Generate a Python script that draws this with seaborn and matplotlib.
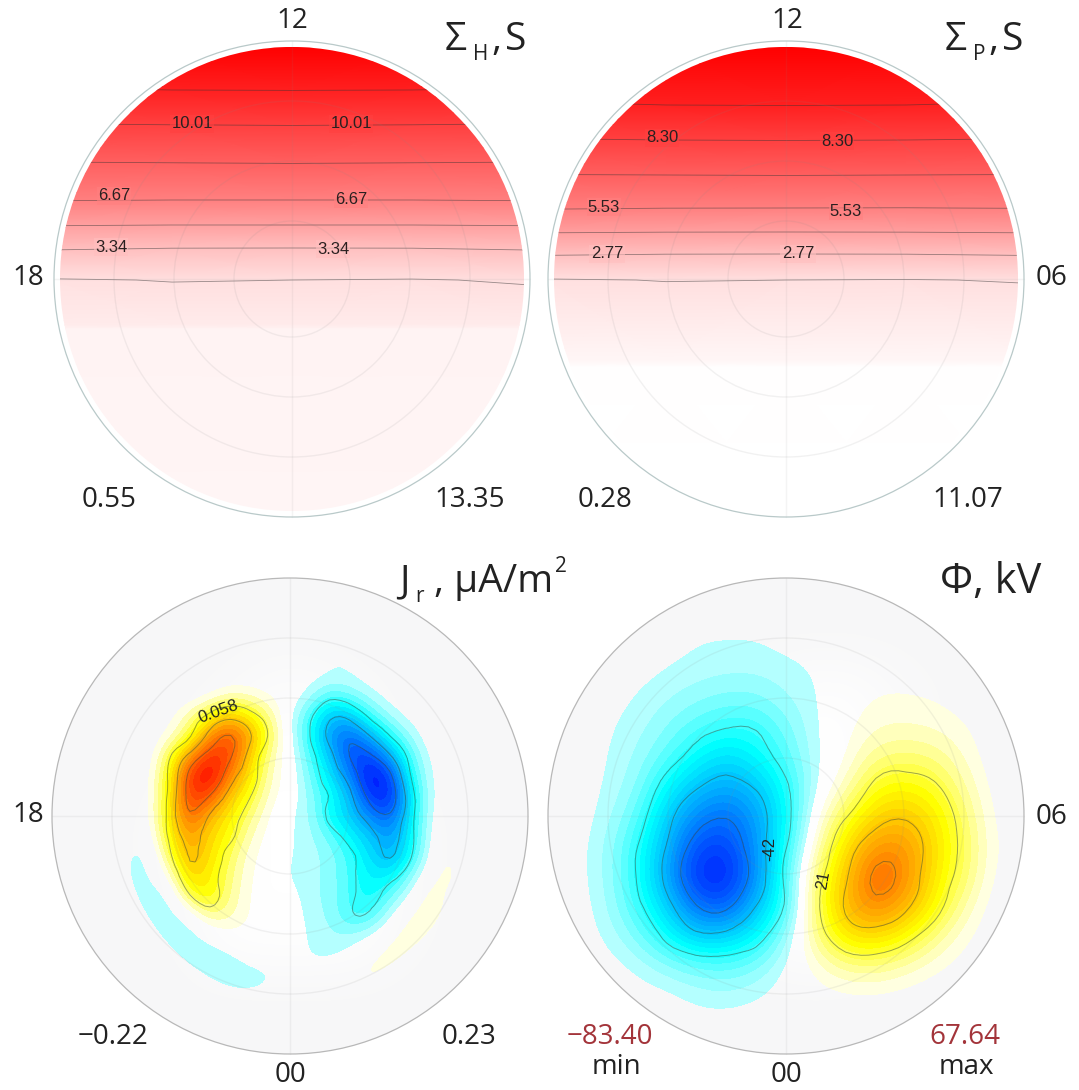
# =======================================
#           IMPORT LIBRARIES
# =======================================
import numpy as np
import matplotlib
matplotlib.use("Agg")
import matplotlib.pyplot as plt
from matplotlib.colors import BoundaryNorm, LinearSegmentedColormap, ListedColormap, Normalize
from matplotlib.patches import Circle
from matplotlib.tri import Triangulation, UniformTriRefiner
import seaborn as sns

sns.set_theme(style="white")
plt.rcParams["font.family"] = ["Open Sans", "DejaVu Sans"]

# =======================================
#           DATA
# =======================================
N = 0.0  # no pattern there
W, H = 1079, 1090

ring_radii = [58, 118, 178]
outer_radius = 238

# conductance profiles, top panels: one row per distance from the centre line
sheet_x = [-240, -120, 0, 120, 240]
hall_y = [-240, -232, -189, -154, -116, -79, -54, -31, 1, 46, 50, 240]
hall_values = [
    [13.8, 13.8, 13.8, 13.8, 13.8],
    [13.35, 13.35, 13.35, 13.35, 13.35],
    [11.6, 11.68, 11.7, 11.68, 11.6],
    [9.95, 10.0, 10.03, 10.0, 9.95],
    [8.3, 8.33, 8.36, 8.33, 8.3],
    [6.72, 6.67, 6.67, 6.67, 6.72],
    [5.05, 5.0, 5.0, 5.0, 5.05],
    [3.45, 3.35, 3.34, 3.35, 3.45],
    [1.6, 1.7, 1.67, 1.62, 1.75],
    [1.05, 1.05, 1.05, 1.05, 1.05],
    [0.66, 0.66, 0.66, 0.66, 0.66],
    [0.55, 0.55, 0.55, 0.55, 0.55],
]
pedersen_y = [-240, -232, -174, -139, -104, -71, -47, -25, 1, 82, 88, 240]
pedersen_values = [
    [11.4, 11.4, 11.4, 11.4, 11.4],
    [11.07, 11.07, 11.07, 11.07, 11.07],
    [9.6, 9.68, 9.7, 9.68, 9.6],
    [8.25, 8.3, 8.32, 8.3, 8.25],
    [6.9, 6.92, 6.94, 6.92, 6.9],
    [5.6, 5.54, 5.53, 5.52, 5.55],
    [4.2, 4.16, 4.15, 4.16, 4.2],
    [2.85, 2.78, 2.77, 2.78, 2.85],
    [1.32, 1.4, 1.38, 1.35, 1.42],
    [0.42, 0.42, 0.42, 0.42, 0.42],
    [0.08, 0.08, 0.08, 0.08, 0.08],
    [0.03, 0.03, 0.03, 0.03, 0.03],
]
hall_levels = [1.67, 3.34, 5.0, 6.67, 8.34, 10.01, 11.68]
pedersen_levels = [1.38, 2.77, 4.15, 5.53, 6.92, 8.30, 9.68]

# field aligned current x 1000
current_x = list(range(-180, 181, 20))
current_y = list(range(-140, 181, 20))
current_values = [
    [N, N, N, N, N, N, N, N, N, N, -4, -11, -11, -3, N, N, N, N, N],
    [N, N, N, N, N, 8, 25, 22, 10, 1, -18, -48, -35, -17, -4, N, N, N, N],
    [N, N, N, 5, 30, 70, 100, 75, 35, -8, -50, -105, -100, -50, -20, -5, N, N, N],
    [N, N, N, 15, 55, 135, 175, 120, 50, -6, -58, -130, -160, -115, -58, -22, 0, N, N],
    [N, N, 0, 55, 130, 195, 180, 95, 30, 0, -45, -100, -175, -180, -120, -45, -6, N, N],
    [N, N, 5, 70, 190, 225, 140, 80, 25, 2, -35, -80, -140, -215, -185, -62, -10, N, N],
    [N, N, 5, 75, 190, 170, 100, 60, 18, 1, -28, -60, -105, -190, -200, -85, -10, N, N],
    [N, N, 5, 80, 165, 110, 75, 40, 10, -10, -22, -68, -95, -140, -165, -80, -8, 3, N],
    [N, -12, 0, 70, 130, 90, 65, 25, 5, -10, -20, -40, -72, -100, -130, -75, -6, 12, N],
    [N, -14, -14, 50, 118, 85, 48, 15, 3, -12, -18, -28, -52, -85, -118, -65, -2, 16, N],
    [N, -14, -16, 15, 95, 75, 40, 12, 2, -14, -20, -28, -50, -75, -75, -30, 10, 18, N],
    [N, -8, -20, -14, 55, 75, 35, 10, 2, -5, -20, -28, -50, -68, -40, -6, 22, 8, N],
    [N, -2, -14, -22, -4, 35, 28, 10, 2, 0, -18, -25, -52, -50, -12, 16, 20, 5, N],
    [N, N, -5, -18, -22, -6, 6, 6, 1, 0, -15, -22, -22, -10, 12, 20, 10, N, N],
    [N, N, N, -6, -18, -22, -16, -2, 2, 0, -14, -15, -6, 12, 18, 10, N, N, N],
    [N, N, N, N, -5, -14, -22, -22, -16, -2, 0, 4, 14, 16, 8, N, N, N, N],
    [N, N, N, N, N, N, -4, -6, -4, N, N, N, N, N, N, N, N, N, N],
]
current_levels = [-173, -115, -58, 58, 115, 173]

# potential in kV
potential_x = list(range(-210, 211, 30))
potential_y = list(range(-210, 211, 30))
potential_values = [
    [N, N, N, N, N, N, N, N, N, N, N, N, N, N, N],
    [N, N, N, -1, -3.2, -3.4, -3.4, -1.5, N, N, N, N, N, N, N],
    [N, N, -1.5, -3.2, -4.5, -5.5, -5.5, -4.5, -3.2, 0.5, 1, 1, N, N, N],
    [N, -1.5, -3.6, -6, -9, -11, -11, -7, -3.7, 1, 3.6, 3.8, 3, 1, N],
    [N, -2.8, -5, -10, -16, -20, -20, -12, -3.8, 2, 6.5, 7, 6, 3.6, N],
    [N, -3.2, -7, -15, -26, -34, -27, -16, -4, 3, 13, 15, 13, 6, N],
    [N, -3.8, -9, -26, -40, -47, -40, -23, -3.7, 8, 24, 27, 22, 10, 0.5],
    [-0.5, -5, -14, -36, -55, -62, -50, -26, 2, 20, 36, 40, 30, 15, 1],
    [-1, -7, -20, -42, -70, -74, -52, -22, 7, 33, 52, 52, 33, 17, 2],
    [-1, -7, -21, -46, -78, -82, -54, -17, 15, 40, 66, 55, 30, 16, 1],
    [-0.5, -6, -18, -36, -62, -67, -42, -19, 17, 44, 57, 45, 26, 9, 0],
    [N, -4, -11, -24, -38, -37, -27, -8, 13, 32, 35, 26, 13, 3.6, N],
    [N, -1, -4, -9, -13, -15, -11, -2.5, 5, 12, 13, 9, 4, 1, N],
    [N, N, -1, -1.5, -4.5, -5.5, -4, -0.5, 1, 2, 2, 1, N, N, N],
    [N, N, N, N, -1, -1, N, N, N, N, N, N, N, N, N],
]
potential_levels = [-63, -42, -21, 21, 42, 63]

# how white the disc is between the two cells (0 grey, 1 white)
gap_axis = [-180, -120, -60, 0, 60, 120, 180]
current_gap = [
    [0, 0, 0, 0, 0, 0, 0],
    [0, 0, 0.2, 0.9, 0.3, 0, 0],
    [0, 0, 1, 1, 1, 0, 0],
    [0, 0.3, 1, 1, 1, 0.3, 0],
    [0, 0.3, 1, 1, 1, 0.3, 0],
    [0, 0, 1, 1, 1, 0.2, 0],
    [0, 0, 0, 0, 0, 0, 0],
]
potential_gap = [
    [0, 0, 0, 0, 0, 0, 0],
    [0, 0, 0, 0.8, 1, 0.3, 0],
    [0, 0, 0, 1, 1, 0.3, 0],
    [0, 0, 0, 1, 1, 0, 0],
    [0, 0, 0, 1, 1, 0, 0],
    [0, 0, 0, 1, 1, 0, 0],
    [0, 0, 0, 0, 0, 0, 0],
]

# =======================================
#           COLOURS
# =======================================
reds = sns.blend_palette(["#ffffff", "#ff0000"], as_cmap=True)
warm = sns.blend_palette(["#ffffe0", "#ffff00", "#ffaa00", "#ff5500", "#ff0000"], n_colors=5, as_cmap=True)
cold = sns.blend_palette(["#b4ffff", "#00ffff", "#00aaff", "#0055ff", "#0000ff"], n_colors=5, as_cmap=True)
white_fade = LinearSegmentedColormap.from_list("white_fade", [(1, 1, 1, 0), (1, 1, 1, 1)])


def band_style(step, top):
    # symmetric colour bands, the middle band stays see-through
    n = int(round(top / step))
    edges = np.arange(-n, n + 1) * step
    edges = np.concatenate([edges[edges < 0], edges[edges > 0]])
    colours = []
    for e in edges[:-1]:
        if e < 0:
            colours.append(cold(max(0, -e - 2 * step) / top))
        else:
            colours.append(warm((e - step) / top))
    colours[n - 1] = (1, 1, 1, 0)
    return ListedColormap(colours), BoundaryNorm(edges, len(colours), clip=True)


# =======================================
#           HELPERS
# =======================================
fig = plt.figure(figsize=(W / 100, H / 100), dpi=100, facecolor="white")


def panel(cx, cy):
    s = 250
    ax = fig.add_axes([(cx - s) / W, 1 - (cy + s) / H, 2 * s / W, 2 * s / H])
    ax.set_xlim(-s, s)
    ax.set_ylim(s, -s)
    ax.set_aspect("equal")
    ax.axis("off")
    return ax


def frame(ax, rim):
    for r in ring_radii:
        ax.add_patch(Circle((0, 0), r, fill=False, ec="#888888", alpha=0.11, lw=1, zorder=6))
    ax.plot([0, 0], [-outer_radius, outer_radius], color="#888888", alpha=0.09, lw=1, zorder=6)
    ax.plot([-outer_radius, outer_radius], [0, 0], color="#888888", alpha=0.09, lw=1, zorder=6)
    ax.add_patch(Circle((0, 0), outer_radius, fill=False, ec=rim, lw=0.9, zorder=7))


def sheet_panel(cx, cy, ys, values, levels, top, labels):
    ax = panel(cx, cy)
    z = np.array(values)
    clip = Circle((0, 0), 232, transform=ax.transData)
    mesh = ax.pcolormesh(sheet_x, ys, z, cmap=reds, norm=Normalize(0, top), shading="gouraud", zorder=1)
    mesh.set_clip_path(clip)
    lines = ax.contour(sheet_x, ys, z, levels=levels, colors="#333333", linewidths=0.6, alpha=0.5, zorder=3)
    lines.set_clip_path(clip)
    for x, y, v in labels:
        shade = reds(float(v) / top)
        ax.text(x, y, v, ha="center", va="center", fontsize=12, color="#2a2020",
                family="Liberation Sans", zorder=5,
                bbox=dict(fc=shade, ec="none", pad=1.0, alpha=0.6))
    frame(ax, "#b9c9c9")
    return ax


def pattern_panel(cx, cy, xs, ys, values, gap, levels, step, top):
    ax = panel(cx, cy)
    ax.add_patch(Circle((0, 0), outer_radius, fc="#f7f7f8", ec="none", zorder=0))
    g = gap_axis[1] - gap_axis[0]
    ax.imshow(np.array(gap, dtype=float), extent=(gap_axis[0] - g / 2, gap_axis[-1] + g / 2, gap_axis[-1] + g / 2, gap_axis[0] - g / 2),
              origin="upper", cmap=white_fade, vmin=0, vmax=1, interpolation="bicubic",
              interpolation_stage="data", aspect="equal", zorder=1)
    z = np.array(values, dtype=float)
    cmap, norm = band_style(step, top)
    d = xs[1] - xs[0]
    ax.imshow(z, extent=(xs[0] - d / 2, xs[-1] + d / 2, ys[-1] + d / 2, ys[0] - d / 2),
              origin="upper", cmap=cmap, norm=norm, interpolation="bicubic",
              interpolation_stage="data", aspect="equal", zorder=2)
    # contour lines through the library's own refiner so they come out round
    gx, gy = np.meshgrid(xs, ys)
    tri = Triangulation(gx.ravel(), gy.ravel())
    fine_tri, fine_z = UniformTriRefiner(tri).refine_field(z.ravel(), subdiv=2)
    ax.tricontour(fine_tri, fine_z, levels=levels, colors="#3a4a3a", linestyles="solid",
                  linewidths=0.7, alpha=0.5, zorder=3)
    ax.set_xlim(-250, 250)
    ax.set_ylim(250, -250)
    frame(ax, "#b8b8b8")
    return ax


def label(x, y, s, size=20, color="#222222", **kw):
    fig.text(x / W, 1 - y / H, s, fontsize=size, color=color, ha=kw.pop("ha", "center"), va="center", **kw)


# =======================================
#           PANELS
# =======================================
sheet_panel(292, 279, hall_y, hall_values, hall_levels, 13.35,
            [(-100, -155, "10.01"), (59, -155, "10.01"), (-178, -83, "6.67"), (59, -80, "6.67"),
             (-181, -32, "3.34"), (41, -30, "3.34")])
sheet_panel(786, 279, pedersen_y, pedersen_values, pedersen_levels, 11.07,
            [(-124, -141, "8.30"), (51, -138, "8.30"), (-182, -72, "5.53"), (60, -68, "5.53"),
             (-179, -25, "2.77"), (12, -25, "2.77")])

ax_j = pattern_panel(290, 816, current_x, current_y, current_values, current_gap, current_levels, 12, 200)
ax_j.text(-72, -104, "0.058", rotation=20, ha="center", va="center", fontsize=12,
          family="Liberation Sans", color="#222222", zorder=5)

ax_p = pattern_panel(786, 816, potential_x, potential_y, potential_values, potential_gap, potential_levels, 3.5, 83.4)
ax_p.text(-16, 33, "-42", rotation=90, ha="center", va="center", fontsize=12,
          family="Liberation Sans", color="#222222", zorder=5)
ax_p.text(37, 64, "21", rotation=80, ha="center", va="center", fontsize=12,
          family="Liberation Sans", color="#222222", zorder=5)

# =======================================
#           TEXT AROUND THE PANELS
# =======================================
label(292, 21, "12")
label(787, 21, "12")
label(28, 278, "18")
label(1052, 278, "06")
label(28, 815, "18")
label(1052, 817, "06")
label(290, 1075, "00")
label(787, 1075, "00")

label(109, 500, "0.55")
label(470, 500, "13.35")
label(605, 500, "0.28")
label(968, 500, "11.07")
label(113, 1037, "\u22120.22")
label(469, 1037, "0.23")
label(610, 1037, "\u221283.40", color="#a3343a")
label(965, 1037, "67.64", color="#a3343a")
label(616, 1067, "min")
label(966, 1067, "max")

label(445, 40, "\u03a3", size=28, ha="left")
label(473, 54, "H", size=15, ha="left")
label(491, 40, ",", size=28, ha="left")
label(505, 40, "S", size=28, ha="left")
label(945, 40, "\u03a3", size=28, ha="left")
label(973, 54, "P", size=15, ha="left")
label(988, 40, ",", size=28, ha="left")
label(1002, 40, "S", size=28, ha="left")
label(399, 582, "J", size=28, ha="left")
label(415, 596, "r", size=15, ha="left")
label(434, 582, ", \u03bcA/m", size=28, ha="left")
label(555, 566, "2", size=15, ha="left")
label(940, 582, "\u03a6, kV", size=30, ha="left")

fig.savefig("out.png", dpi=100)
